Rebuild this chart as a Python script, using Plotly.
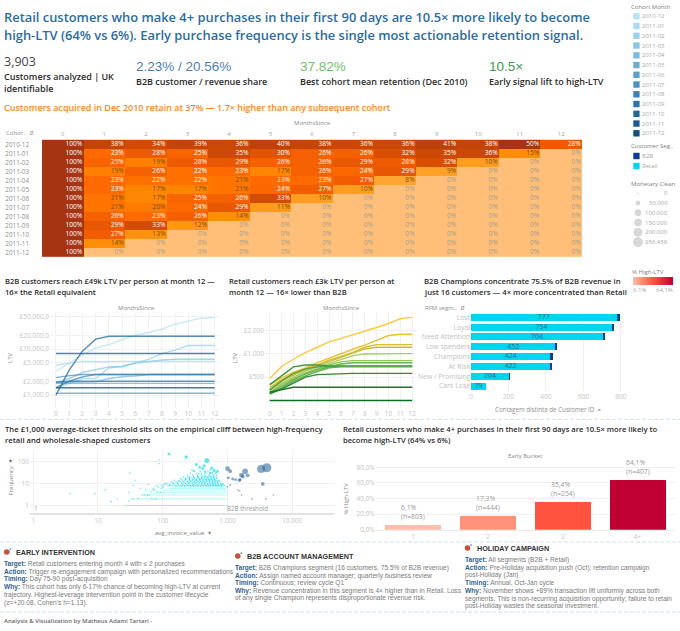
import plotly.graph_objects as go

# ---------- data ----------
cohorts = ["2010-12","2011-01","2011-02","2011-03","2011-04","2011-05","2011-06",
           "2011-07","2011-08","2011-09","2011-10","2011-11","2011-12"]
months = list(range(13))
retention = [
 [100,38,34,39,36,40,38,36,36,41,38,50,28],
 [100,23,28,25,35,30,26,26,32,35,36,15,0],
 [100,25,19,28,29,26,26,29,28,32,10,0,0],
 [100,19,26,22,23,17,26,24,29,9,0,0,0],
 [100,23,22,22,21,23,23,27,8,0,0,0,0],
 [100,23,17,17,21,24,27,10,0,0,0,0,0],
 [100,21,17,25,26,33,10,0,0,0,0,0,0],
 [100,21,20,24,29,11,0,0,0,0,0,0,0],
 [100,26,23,26,14,0,0,0,0,0,0,0,0],
 [100,29,33,12,0,0,0,0,0,0,0,0,0],
 [100,27,13,0,0,0,0,0,0,0,0,0,0],
 [100,14,0,0,0,0,0,0,0,0,0,0,0],
 [100,0,0,0,0,0,0,0,0,0,0,0,0],
]
ltv_b2b = [
 [3300,5000,7500,10500,12500,16000,20000,23000,27000,35000,41000,47000,49000],
 [4500,5000,5400,5300,5400,5400,5400,5400,5400,5400,5400,5400,5400],
 [1400,1800,2300,2300,3900,4200,5000,6000,8000,9500,12000,12000,12000],
 [1900,2300,3100,3500,4100,4200,5000,5300,5800,6000,6000,6000,6000],
 [1900,1900,1900,1950,2300,2500,2600,2800,2800,2800,2800,2800,2800],
 [1800,1800,1800,1800,1800,1800,1800,1800,1800,1800,1800,1800,1800],
 [1100,1100,1100,1100,1100,1100,1100,1100,1100,1100,1100,1100,1100],
 [2400,2650,2800,2800,2800,2800,2800,2800,2800,2800,2800,2800,2800],
 [1450,2000,2500,2800,2800,2800,2800,2800,2800,2800,2800,2800,2800],
 [1900,2000,2000,2000,2000,2000,2000,2000,2000,2000,2000,2000,2000],
 [1000,3500,9000,16500,19000,19000,19000,19000,19000,19000,19000,19000,19000],
 [8000,8000,8000,8000,8000,8000,8000,8000,8000,8000,8000,8000,8000],
 [1450,1450,1450,1450,1450,1450,1450,1450,1450,1450,1450,1450,1450],
]
ltv_retail = [
 [480,688,854,1040,1220,1430,1590,1760,1980,2200,2480,2860,3000],
 [400,490,580,660,770,880,1020,1150,1300,1510,1730,1800,1800],
 [370,460,550,640,720,830,930,1050,1220,1320,1320,1320,1320],
 [350,440,530,620,700,790,900,1020,1160,1220,1220,1220,1220],
 [340,420,500,600,670,750,850,950,1000,1010,1010,1010,1010],
 [320,400,480,570,640,720,790,820,820,820,820,820,820],
 [310,380,460,550,620,680,740,770,770,770,770,770,770],
 [340,450,560,640,680,690,690,690,690,690,690,690,690],
 [400,520,680,720,720,700,700,700,700,700,700,700,700],
 [305,360,440,520,590,660,680,680,680,680,680,680,680],
 [305,350,420,500,540,550,560,560,560,560,560,560,560],
 [320,345,370,370,370,370,370,370,370,370,370,370,370],
 [250,250,250,250,250,250,250,250,250,250,250,250,250],
]
rfm_segments = ["Lost","Loyal","Need Attention","Low spenders","Champions","At Risk","New / Promising","Cant Lose"]
rfm_retail = [777,754,704,452,424,422,204,79]
rfm_b2b = [17,11,14,6,16,6,1,0]

early_bucket = ["1","2","3","4+"]
high_ltv_pct = [6.1,17.3,35.4,64.1]
bucket_n = [803,444,254,407]

band_freq = [1,2,3,4,5,6,7]
band_min = [25,35,50,80,100,125,140]
band_max = [1000,1000,1000,1000,1000,950,900]

retail_x = [125,230,480,330,435,570,685,88,88,31,3.7,9,13,16,20,30,35,38,45,52,60,70,80,
 620,540,410,370,300,450,
 120,140,165,190,215,240,270,300,340,380,420,470,520,580,640,700,760,830,900,
 105,130,150,175,205,235,260,295,325,365,405,450,495,545,600,660,720,790,860,
 115,145,170,200,225,250,285,315,350,395,440,490,540,590,650,710,780,850,
 135,160,185,210,245,275,305,345,385,430,480,530,585,640,700,770,
 150,180,220,260,290,330,370,410,460,510,570,630,690,750,
 190,230,265,310,360,400,450,500,560,620,680,
 210,250,300,350,420,480,540,600,670,
 240,290,340,390,445,520,610,680,
 270,330,400,470,560,650,
 310,380,500,620,720,
 280,420,540,700,
 360,460,590,
 128,155,178,198,222,248,268,288,322,355,392,428,462,505,552,612,668,735,805,
 142,168,195,218,242,262,292,328,368,412,455,515,575,628,695,
 175,205,238,272,312,352,388,435,485,535,595,655,725,
 196,226,258,298,338,378,425,475,525,585,645,
 222,256,286,326,372,415,468,518,575,635,
 262,302,348,395,438,495,548,605,
 345,405,455,515,565,625,
 55,62,72,78,85,92,98,110,
 42,48,66,75,95,102,
 30,34,58,68,82]
retail_f = [218,160,110,72,64,50,33,117,80,30,3.5,3.5,5,1.5,2,4,8,14,6,3,9,5,8,
 40,30,48,55,38,33,
 8,8,8,8,8,8,8,8,8,8,8,8,8,8,8,8,8,8,8,
 9,9,9,9,9,9,9,9,9,9,9,9,9,9,9,9,9,9,9,
 10,10,10,10,10,10,10,10,10,10,10,10,10,10,10,10,10,10,
 12,12,12,12,12,12,12,12,12,12,12,12,12,12,12,12,
 14,14,14,14,14,14,14,14,14,14,14,14,14,14,
 17,17,17,17,17,17,17,17,17,17,17,
 20,20,20,20,20,20,20,20,20,
 24,24,24,24,24,24,24,24,
 29,29,29,29,29,29,
 35,35,35,35,35,
 42,42,42,42,
 28,38,31,
 8,8,8,8,8,8,8,8,8,8,8,8,8,8,8,8,8,8,8,
 11,11,11,11,11,11,11,11,11,11,11,11,11,11,11,
 13,13,13,13,13,13,13,13,13,13,13,13,13,
 15,15,15,15,15,15,15,15,15,15,15,
 16,16,16,16,16,16,16,16,16,16,
 19,19,19,19,19,19,19,19,
 22,22,22,22,22,22,
 5,3,6,2,7,4,8,10,
 2,3,4,5,6,7,
 1.6,2,3,2,4]
retail_m = [28000,40000,80000,30000,32000,30000,26000,3000,3000,800,300,300,300,300,300,300,300,300,300,300,300,300,300,
            30000,22000,24000,22000,15000,15000]

b2b_x = [3300,4050,1870,2050,1640,1720,1520,1570,1000,1100,1030,1200,1330,3500,1000,1100,1450,1550,1650,2400,3900,5100]
b2b_f = [46,52,36,23.6,24,21,14,15,47,36,18,16,15,9.5,7,8.5,5,4.5,3,2,2,3]
b2b_m = [200000,256438,100000,45000,70000,45000,35000,25000,70000,45000,25000,25000,25000,45000,8000,10000,8000,8000,5000,4000,5000,5000]

# ---------- styles ----------
W, H = 680, 631
DARK = "#2b2b2b"
BLUE_TITLE = "#2B6CA3"
HEAD = "Open Sans"
BODY = "Liberation Sans"
cohort_blues = ["#B5E2F5","#A8DAF1","#9AD1EC","#8AC6E6","#7BBADF","#6CADD6","#5C9FCB",
                "#4D91BF","#3E83B3","#2F74A6","#24689A","#1A5B8C","#124D7C"]
retail_colors = ["#FFC83D","#EFBF2F","#D8BC2E","#C6BD3A","#A6CE5E","#8FC45A","#6FB24F",
                 "#4FA245","#3A9A3C","#5EAE4A","#2A8E35","#13782A","#0B6F22"]
b2b_dark = "#0A3D91"
retail_cyan = "#00D5EF"
TICK = dict(size=6.5, color="#C6C6C6", family=HEAD)

def dx(x0, x1): return [x0 / W, x1 / W]
def dy(y0, y1): return [1 - y1 / H, 1 - y0 / H]

anns, shapes = [], []
def T(x, y, text, size=7, color=DARK, family=HEAD, anchor="left", weight=None, angle=0):
    f = dict(size=size, color=color, family=family)
    if weight: f["weight"] = weight
    anns.append(dict(x=x / W, y=1 - y / H, xref="paper", yref="paper", text=text, showarrow=False,
                     xanchor=anchor, yanchor="middle", font=f, textangle=angle, borderpad=0, borderwidth=0))
def rect(x0, y0, x1, y1, fill, line="rgba(0,0,0,0)", kind="rect", lw=0.5):
    shapes.append(dict(type=kind, xref="paper", yref="paper", x0=x0 / W, x1=x1 / W,
                       y0=1 - y1 / H, y1=1 - y0 / H, fillcolor=fill, line=dict(color=line, width=lw)))

fig = go.Figure()
axis_base = dict(showgrid=True, gridcolor="#F1F1F1", gridwidth=1, zeroline=False, showline=False, ticks="", tickfont=TICK)

# ---------- heatmap ----------
heat_scale = [[0,"#FFBF78"],[0.05,"#FFB050"],[0.09,"#FFA126"],[0.14,"#FF8F08"],[0.19,"#FF8000"],
              [0.23,"#FF6A00"],[0.28,"#EE5A00"],[0.33,"#D24C05"],[0.38,"#C44508"],[0.5,"#A63312"],[1,"#A63312"]]
fig.add_trace(go.Heatmap(z=retention, x=months, y=cohorts, zmin=0, zmax=100, colorscale=heat_scale,
                         showscale=False, xaxis="x", yaxis="y", hoverinfo="skip"))
tx, ty, tt, tc = [], [], [], []
for i, c in enumerate(cohorts):
    for j, m in enumerate(months):
        v = retention[i][j]
        tx.append(m + 0.47); ty.append(c); tt.append(f"{v}%")
        tc.append("#A5A08F" if v == 0 else ("#FFFFFF" if v >= 22 else "#7A4A10"))
fig.add_trace(go.Scatter(x=tx, y=ty, text=tt, mode="text", textposition="middle left",
                         textfont=dict(size=6.6, color=tc, family=HEAD), xaxis="x", yaxis="y", hoverinfo="skip"))
lay = dict(
    xaxis=dict(domain=dx(42, 582), range=[-0.5, 12.5], side="top", tickvals=months, showgrid=False, zeroline=False,
               ticks="", tickfont=dict(size=6, color="#A0A0A0", family=HEAD), anchor="y"),
    yaxis=dict(domain=dy(138.3, 258.3), type="category", categoryorder="array", categoryarray=cohorts,
               autorange="reversed", showgrid=False, zeroline=False, ticks="",
               tickfont=dict(size=6.3, color="#8E8E8E", family=HEAD), ticklabelstandoff=12, anchor="x"),
)

# ---------- LTV B2B ----------
for i, s in enumerate(ltv_b2b):
    fig.add_trace(go.Scatter(x=months, y=s, mode="lines", line=dict(color=cohort_blues[i], width=1.4), opacity=0.75,
                             xaxis="x2", yaxis="y2", hoverinfo="skip"))
lay["xaxis2"] = dict(axis_base, domain=dx(50, 220), range=[-0.45, 12.4], tickvals=months, anchor="y2")
lay["yaxis2"] = dict(axis_base, domain=dy(313, 408), type="log", range=[2.72, 4.785], anchor="x2",
                     tickvals=[1000,2000,5000,10000,20000,50000],
                     ticktext=["£1.000,0","£2.000,0","£5.000,0","£10.000,0","£20.000,0","£50.000,0"])

# ---------- LTV Retail ----------
for i, s in enumerate(ltv_retail):
    fig.add_trace(go.Scatter(x=months, y=s, mode="lines", line=dict(color=retail_colors[i], width=1.4),
                             xaxis="x3", yaxis="y3", hoverinfo="skip"))
lay["xaxis3"] = dict(axis_base, domain=dx(265, 417), range=[-0.4, 12.4], tickvals=months, anchor="y3")
lay["yaxis3"] = dict(axis_base, domain=dy(313, 408), type="log", range=[2.30, 3.53], anchor="x3",
                     tickvals=[500,1000,2000], ticktext=["£500","£1.000","£2.000"])

# ---------- RFM bars ----------
fig.add_trace(go.Bar(y=rfm_segments, x=rfm_retail, orientation="h", marker=dict(color=retail_cyan, line=dict(width=0)),
                     xaxis="x4", yaxis="y4", width=0.72, hoverinfo="skip"))
fig.add_trace(go.Bar(y=rfm_segments, x=rfm_b2b, orientation="h", marker=dict(color=b2b_dark, line=dict(width=0)),
                     xaxis="x4", yaxis="y4", width=0.72, hoverinfo="skip"))
fig.add_trace(go.Scatter(y=rfm_segments, x=[v / 2 for v in rfm_retail], mode="text", text=[str(v) for v in rfm_retail],
                         textposition="middle center", textfont=dict(size=7, color="#2A6A88", family=HEAD),
                         xaxis="x4", yaxis="y4", hoverinfo="skip"))
lay["barmode"] = "stack"
lay["xaxis4"] = dict(axis_base, domain=dx(471, 627), range=[0, 833], tickvals=[0,200,400,600,800], anchor="y4")
lay["yaxis4"] = dict(axis_base, domain=dy(312.4, 391), type="category", autorange="reversed", showgrid=False, anchor="x4",
                     tickfont=dict(size=6.8, color="#C2C2C2", family=HEAD))

# ---------- scatter ----------
for f, a, b in zip(band_freq, band_min, band_max):
    fig.add_trace(go.Scatter(x=[a, b], y=[f, f], mode="lines", line=dict(color="rgba(0,213,239,0.3)", width=1),
                             xaxis="x5", yaxis="y5", hoverinfo="skip"))
size_of = lambda m: max(1.6, 0.0178 * m ** 0.5)
retail_sizes = [size_of(m) for m in retail_m] + [1.6] * (len(retail_x) - len(retail_m))
fig.add_trace(go.Scatter(x=retail_x, y=retail_f, mode="markers", xaxis="x5", yaxis="y5", hoverinfo="skip",
                         marker=dict(size=retail_sizes, color=retail_cyan, opacity=0.6, line=dict(width=0))))
fig.add_trace(go.Scatter(x=b2b_x, y=b2b_f, mode="markers", xaxis="x5", yaxis="y5", hoverinfo="skip",
                         marker=dict(size=[size_of(m) for m in b2b_m], color="#1E5C9C", opacity=0.55,
                                     line=dict(width=0))))
lay["xaxis5"] = dict(axis_base, domain=dx(30, 335), type="log", range=[-0.05, 4.66], anchor="y5",
                     tickvals=[1,10,100,1000,10000], ticktext=["1","10","100","1.000","10.000"],
                     showline=True, linecolor="#E2E2E2", linewidth=1.5)
lay["yaxis5"] = dict(axis_base, domain=dy(450, 513), type="log", range=[-0.34, 2.52], anchor="x5",
                     tickvals=[1,10,100], ticktext=["1","10","100"])

# ---------- early bucket bars ----------
lay["coloraxis"] = dict(cmin=6.1, cmax=64.1,
    colorscale=[[0,"#FFBDAB"],[0.19,"#FF9379"],[0.505,"#FF5340"],[1,"#BF0030"]],
    colorbar=dict(orientation="h", thickness=8, thicknessmode="pixels", len=40, lenmode="pixels",
                  x=633 / W, xanchor="left", y=1 - 277 / H, yanchor="top", showticklabels=False, ticks="",
                  outlinewidth=0, xpad=0, ypad=0))
fig.add_trace(go.Bar(x=early_bucket, y=high_ltv_pct, marker=dict(color=high_ltv_pct, coloraxis="coloraxis", line=dict(width=0)),
                     width=0.746, xaxis="x6", yaxis="y6", hoverinfo="skip"))
lay["xaxis6"] = dict(axis_base, domain=dx(375.7, 675), type="category", range=[-0.5, 3.5], showgrid=False,
                     anchor="y6", showline=True, linecolor="#EBEBEB", linewidth=1)
lay["yaxis6"] = dict(axis_base, domain=dy(460, 529.7), range=[0, 89.4], tickvals=[0,20,40,60,80],
                     ticktext=["0,0%","20,0%","40,0%","60,0%","80,0%"], anchor="x6")
for i, (v, n) in enumerate(zip(high_ltv_pct, bucket_n)):
    anns.append(dict(x=i, y=v, xref="x6", yref="y6", showarrow=False, yanchor="bottom", xanchor="center", yshift=2,
                     align="left", text=f"{v:.1f}%".replace(".", ",") + f"<br>(n={n})",
                     font=dict(size=6.8, color="#9A9A9A", family=HEAD)))

# ---------- header text ----------
T(4, 17.5, "Retail customers who make 4+ purchases in their first 90 days are 10.5× more likely to become", 12.9, BLUE_TITLE, weight=600)
T(4, 34.5, "high-LTV (64% vs 6%). Early purchase frequency is the single most actionable retention signal.", 12.9, BLUE_TITLE, weight=600)
T(4, 61, "3,903", 12.5, "#444444")
T(4, 76, "Customers analyzed | UK", 9, DARK, weight=600)
T(4, 89, "identifiable", 9, DARK, weight=600)
T(136, 67, "2.23% / 20.56%", 13.5, "#4E7FB5", BODY)
T(136, 81.5, "B2B customer / revenue share", 9, DARK, weight=600)
T(300, 67, "37.82%", 13.5, "#70C070", BODY)
T(300, 81.5, "Best cohort mean retention (Dec 2010)", 9, DARK, weight=600)
T(489, 67, "10.5×", 13.5, "#3E9B52", BODY)
T(489, 81.5, "Early signal lift to high-LTV", 9, DARK, weight=600)
T(4, 107, "Customers acquired in Dec 2010 retain at 37% — 1.7× higher than any subsequent cohort", 9, "#F58A22", weight=600)
T(312, 123, "MonthsSince", 6, "#8a8a8a", anchor="center")
T(6, 133, "Cohor..  ⇵", 6, "#8E8E8E")

# right legends
T(631, 6.7, "Cohort Month", 6, "#808080")
for i, c in enumerate(cohorts):
    y = 16.3 + i * 9.75
    rect(633.3, y - 3.2, 639.6, y + 3.2, cohort_blues[i])
    T(642, y, c, 6, "#A8A8A8")
T(631, 146.3, "Customer Seg..", 6, "#808080")
rect(633.3, 152.8, 639.6, 159.2, b2b_dark); T(642, 156, "B2B", 6, "#A8A8A8")
rect(633.3, 162.8, 639.6, 169.2, retail_cyan); T(642, 166, "Retail", 6, "#A8A8A8")
T(631, 183.7, "Monetary Clean", 6, "#808080")
for i, (lbl, d) in enumerate(zip(["0","50.000","100.000","150.000","200.000","256.438"], [1,4,6,7,8,9])):
    y = 193.3 + i * 9.75
    rect(638 - d / 2, y - d / 2, 638 + d / 2, y + d / 2, "#D8D8D8", "#C4C4C4", "circle")
    T(668, y, lbl, 6, "#A8A8A8", anchor="right")
T(632, 271.5, "% High-LTV", 6, "#808080")
T(633, 290, "6,1%", 6, "#A8A8A8")
T(673, 290, "64,1%", 6, "#A8A8A8", anchor="right")

# chart titles
T(5, 280.7, "B2B customers reach £49k LTV per person at month 12 —", 7.6, DARK, weight=600)
T(5, 292, "16× the Retail equivalent", 7.6, DARK, weight=600)
T(229, 280.7, "Retail customers reach £3k LTV per person at", 7.6, DARK, weight=600)
T(229, 292, "month 12 — 16× lower than B2B", 7.6, DARK, weight=600)
T(424, 280.7, "B2B Champions concentrate 75.5% of B2B revenue in", 7.7, DARK, weight=600)
T(424, 292, "just 16 customers — 4× more concentrated than Retail", 7.7, DARK, weight=600)
T(136, 307.7, "MonthsSince", 6, "#8a8a8a", anchor="center")
T(341, 307.7, "MonthsSince", 6, "#8a8a8a", anchor="center")
T(10, 358, "LTV", 6, "#8a8a8a", anchor="center", angle=-90)
T(235, 358, "LTV", 6, "#8a8a8a", anchor="center", angle=-90)
T(425, 308, "RFM segm..  ⇵", 6, "#8E8E8E")
T(548, 409.3, "Contagem distinta de Customer ID  ≡", 6.2, "#8E8E8E", anchor="center")

T(5, 429.3, "The £1,000 average-ticket threshold sits on the empirical cliff between high-frequency", 7.7, DARK, weight=600)
T(5, 440.3, "retail and wholesale-shaped customers", 7.7, DARK, weight=600)
T(343, 429.3, "Retail customers who make 4+ purchases in their first 90 days are 10.5× more likely to", 7.6, DARK, weight=600)
T(343, 440.3, "become high-LTV (64% vs 6%)", 7.6, DARK, weight=600)
T(10.5, 481, "Frequency", 6, "#8a8a8a", anchor="center", angle=-90)
T(10, 461, "✦", 6, "#555555", anchor="center")
T(183, 532.7, "avg_invoice_value  ✦", 6, "#808080", anchor="center")
T(34, 508.7, "1", 6.5, "#ABABAB")
T(227.5, 508.7, "B2B threshold", 6.2, "#9a9a9a")
T(525, 455.5, "Early Bucket", 6, "#8a8a8a", anchor="center")
T(345.5, 499, "% High-LTV", 6, "#8a8a8a", anchor="center", angle=-90)

# dashed separators
for y in (419.3, 542, 612):
    shapes.append(dict(type="line", xref="paper", yref="paper", x0=0, x1=1, y0=1 - y / H, y1=1 - y / H,
                       line=dict(color="#CFE0EE", width=1, dash="4px,2px")))

# action notes
def note(x, hx, hy, title, ys, lines):
    rect(hx - 12, hy - 2.8, hx - 6.4, hy + 2.8, "#C9503E", kind="circle")
    rect(hx - 6.6, hy - 3.8, hx - 4.8, hy - 2, "#2AA6B8", kind="circle")
    T(hx, hy, title, 7.2, "#333333", BODY, weight=700)
    for y, l in zip(ys, lines):
        T(x, y, l, 6.6, "#7a7a7a", BODY)
lab = lambda s: f'<b><span style="color:#2F5F8F">{s}</span></b>'
note(4, 16, 552, "EARLY INTERVENTION", [564, 571.7, 579.3, 587, 595, 602.5], [
    lab("Target:") + " Retail customers entering month 4 with ≤ 2 purchases",
    lab("Action:") + " Trigger re-engagement campaign with personalized recommendations",
    lab("Timing:") + " Day 75-90 post-acquisition",
    lab("Why:") + " This cohort has only 6-17% chance of becoming high-LTV at current",
    "trajectory. Highest-leverage intervention point in the customer lifecycle",
    "(z=+20.08, Cohen's h=1.13)."])
note(235, 247, 556, "B2B ACCOUNT MANAGEMENT", [568, 575.7, 583, 590.7, 598.3], [
    lab("Target:") + " B2B Champions segment (16 customers, 75.5% of B2B revenue)",
    lab("Action:") + " Assign named account manager; quarterly business review",
    lab("Timing:") + " Continuous; review cycle Q1",
    lab("Why:") + " Revenue concentration in this segment is 4× higher than in Retail. Loss",
    "of any single Champion represents disproportionate revenue risk."])
note(465, 476.7, 548, "HOLIDAY CAMPAIGN", [559.7, 567.7, 575, 583, 590.7, 598.5, 606], [
    lab("Target:") + " All segments (B2B + Retail)",
    lab("Action:") + " Pre-Holiday acquisition push (Oct); retention campaign",
    "post-Holiday (Jan)",
    lab("Timing:") + " Annual, Oct-Jan cycle",
    lab("Why:") + " November shows +89% transaction lift uniformly across both",
    "segments. This is non-recurring acquisition opportunity; failure to retain",
    "post-Holiday wastes the seasonal investment."])
T(4, 620.7, "Analysis & Visualization by Matheus Adami Tartari -", 6, "#6a6a6a", weight=600)

fig.update_layout(width=W, height=H, margin=dict(l=0, r=0, t=0, b=0, autoexpand=False), showlegend=False,
                  paper_bgcolor="white", plot_bgcolor="white", annotations=anns, shapes=shapes,
                  font=dict(family=HEAD), **lay)
fig.write_html("out.html", config=dict(displayModeBar=False),
               post_script="document.body.style.margin='0';document.body.style.overflow='hidden';")
